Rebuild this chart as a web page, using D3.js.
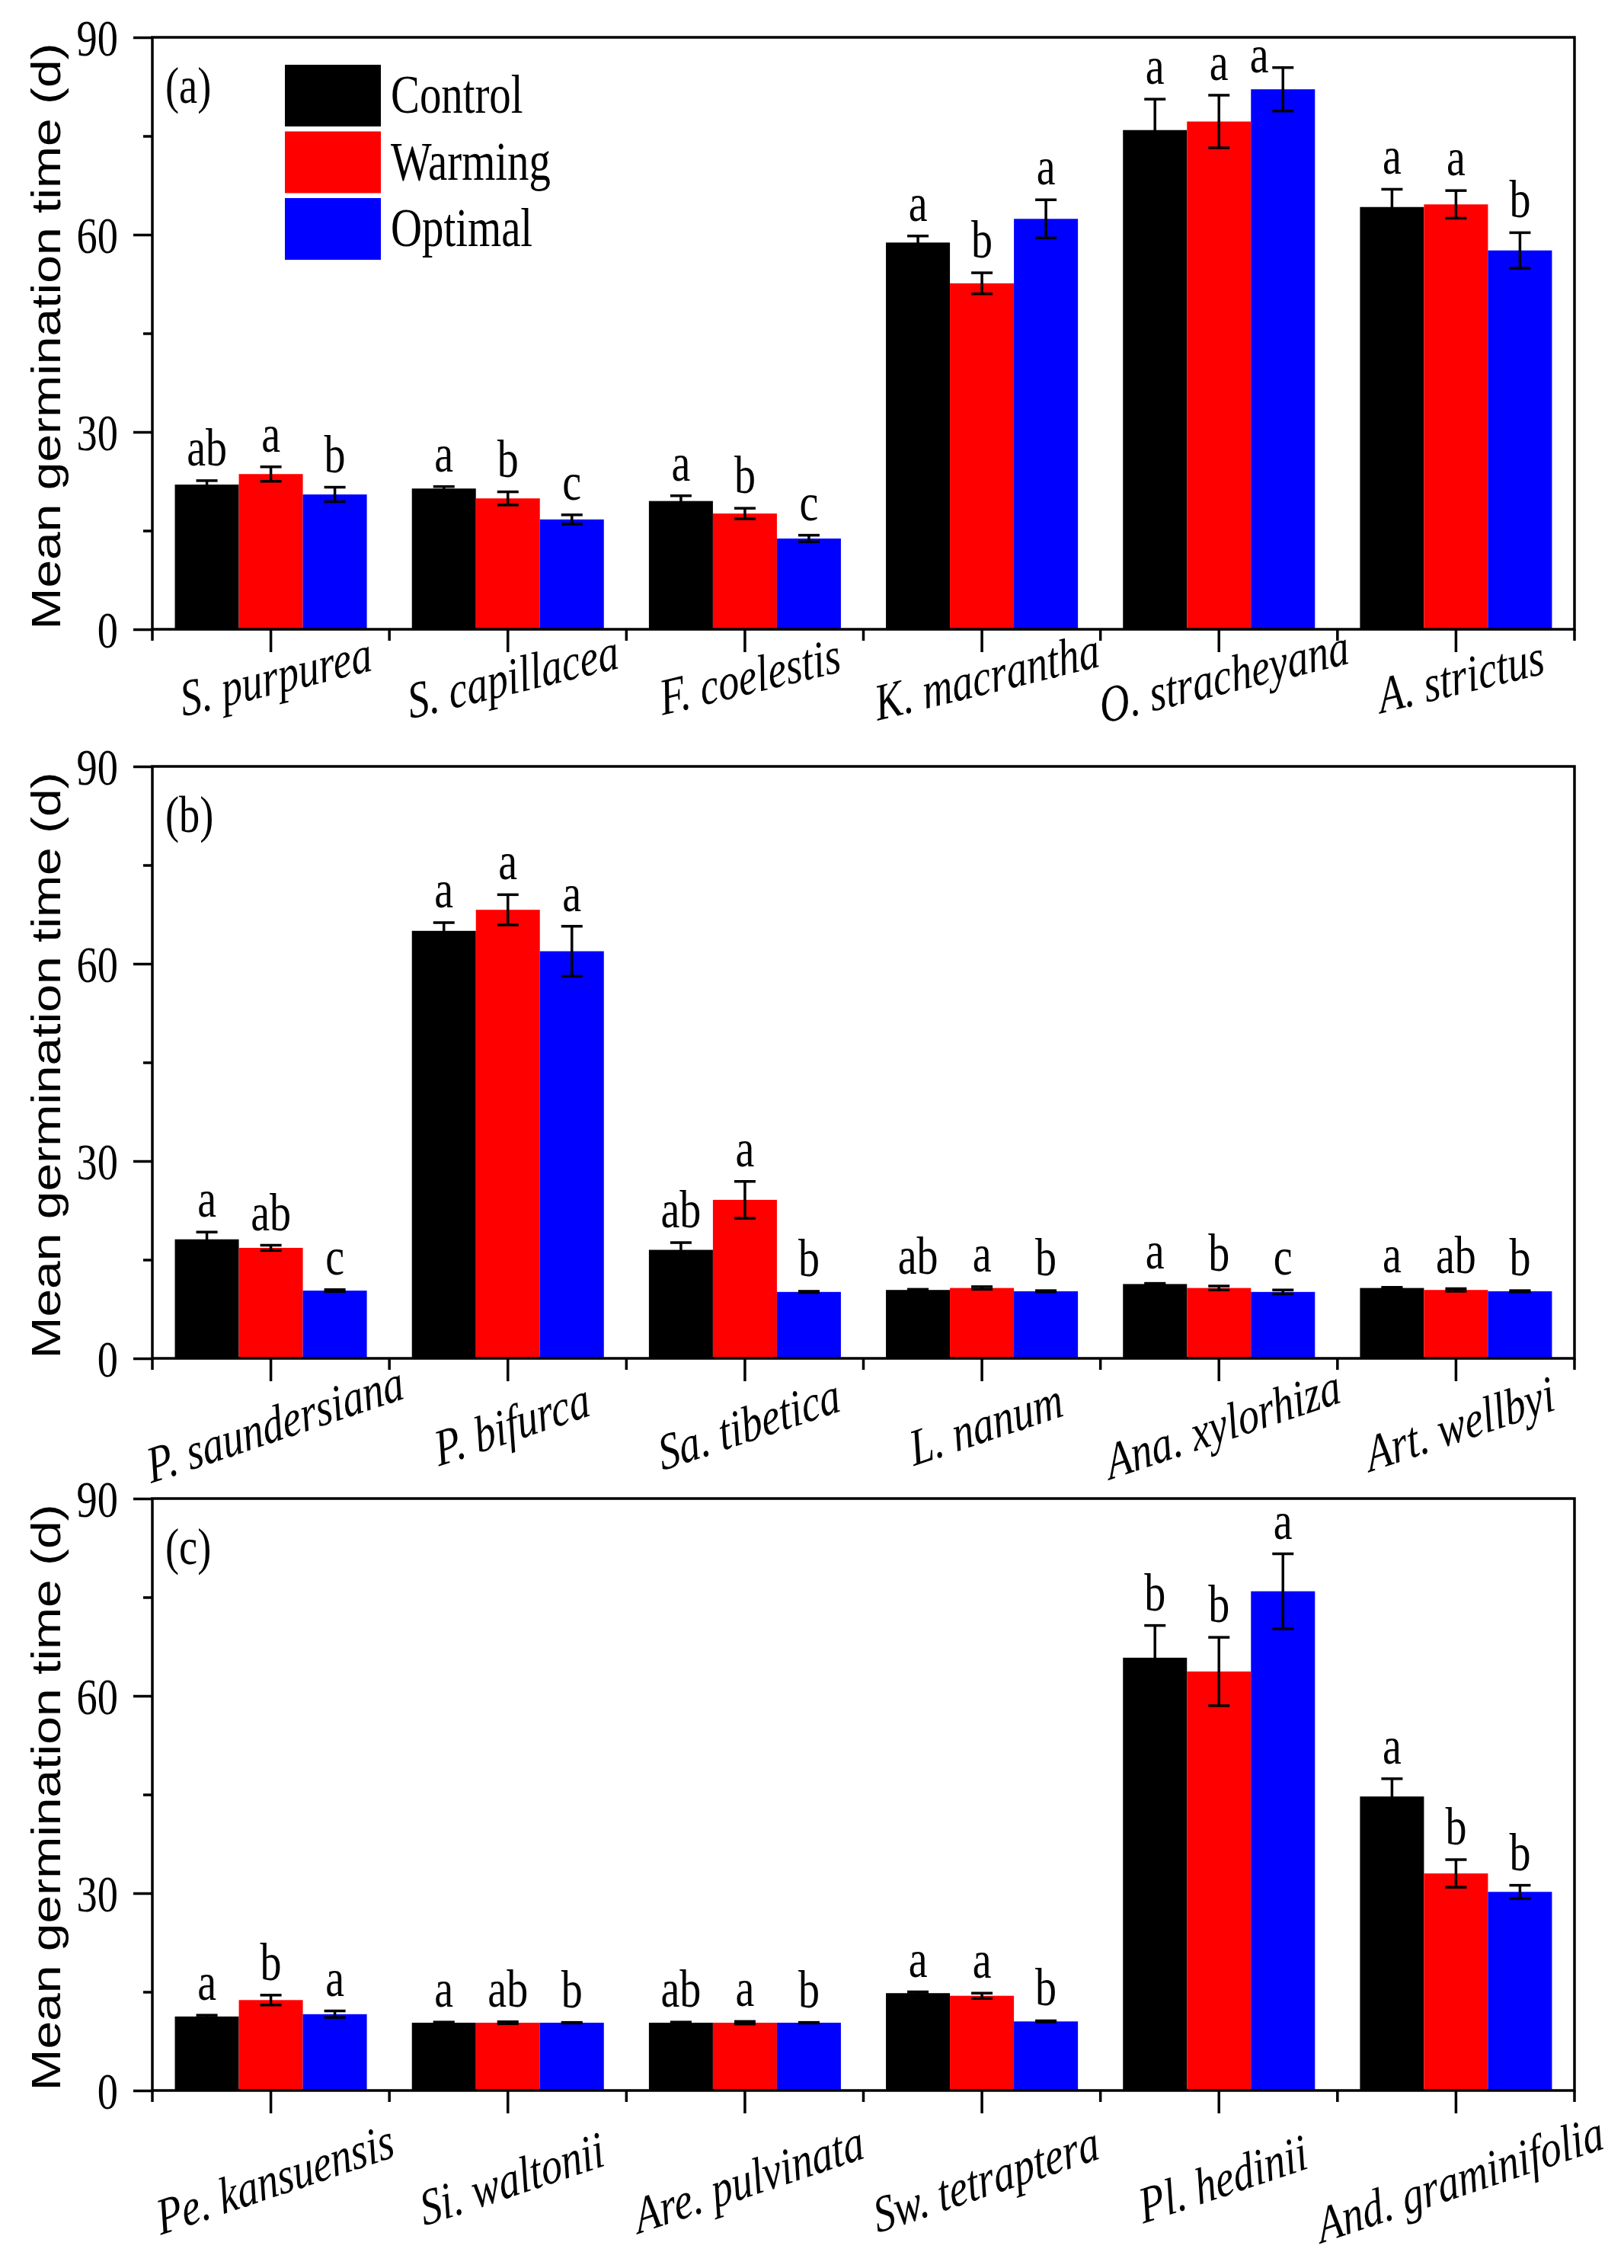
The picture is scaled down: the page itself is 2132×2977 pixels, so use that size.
<!DOCTYPE html>
<html>
<head>
<meta charset="utf-8">
<script src="https://cdn.jsdelivr.net/npm/d3@7"></script>
<style>
  body { margin: 0; background: #fff; }
</style>
</head>
<body>
<div id="chart"></div>
<script>
const treatments = ['Control', 'Warming', 'Optimal'];
const colors = ['#000000', '#ff0000', '#0000ff'];
const yTicks = [0, 30, 60, 90];
const yMinorTicks = [15, 45, 75];
const yLabel = 'Mean germination time (d)';

// panel (a)
const speciesA = ['S. purpurea', 'S. capillacea', 'F. coelestis', 'K. macrantha', 'O. stracheyana', 'A. strictus'];
const controlA = [22.0, 21.4, 19.5, 58.8, 75.9, 64.2];
const warmingA = [23.6, 19.9, 17.6, 52.6, 77.2, 64.6];
const optimalA = [20.5, 16.7, 13.8, 62.4, 82.1, 57.6];
const controlSeA = [0.6, 0.3, 0.8, 1.0, 4.7, 2.7];
const warmingSeA = [1.1, 1.0, 0.8, 1.6, 4.0, 2.1];
const optimalSeA = [1.1, 0.7, 0.5, 2.9, 3.3, 2.7];
const lettersA = [['ab', 'a', 'b'], ['a', 'b', 'c'], ['a', 'b', 'c'], ['a', 'b', 'a'], ['a', 'a', 'a'], ['a', 'a', 'b']];

// panel (b)
const speciesB = ['P. saundersiana', 'P. bifurca', 'Sa. tibetica', 'L. nanum', 'Ana. xylorhiza', 'Art. wellbyi'];
const controlB = [18.1, 65.0, 16.5, 10.4, 11.3, 10.7];
const warmingB = [16.8, 68.2, 24.1, 10.7, 10.7, 10.4];
const optimalB = [10.3, 61.9, 10.1, 10.2, 10.1, 10.2];
const controlSeB = [1.1, 1.25, 1.1, 0.1, 0.1, 0.1];
const warmingSeB = [0.4, 2.3, 2.8, 0.2, 0.3, 0.2];
const optimalSeB = [0.15, 3.8, 0.1, 0.1, 0.3, 0.1];
const lettersB = [['a', 'ab', 'c'], ['a', 'a', 'a'], ['ab', 'a', 'b'], ['ab', 'a', 'b'], ['a', 'b', 'c'], ['a', 'ab', 'b']];

// panel (c)
const speciesC = ['Pe. kansuensis', 'Si. waltonii', 'Are. pulvinata', 'Sw. tetraptera', 'Pl. hedinii', 'And. graminifolia'];
const controlC = [11.25, 10.3, 10.3, 14.8, 65.8, 44.7];
const warmingC = [13.75, 10.3, 10.3, 14.4, 63.7, 33.0];
const optimalC = [11.6, 10.3, 10.3, 10.5, 75.9, 30.2];
const controlSeC = [0.2, 0.1, 0.1, 0.2, 4.9, 2.7];
const warmingSeC = [0.75, 0.15, 0.2, 0.4, 5.2, 2.1];
const optimalSeC = [0.5, 0.05, 0.05, 0.1, 5.7, 1.0];
const lettersC = [['a', 'b', 'a'], ['a', 'ab', 'b'], ['ab', 'a', 'b'], ['a', 'a', 'b'], ['b', 'b', 'a'], ['a', 'b', 'b']];

const width = 2132;
const height = 2977;
const LEFT = 200;
const RIGHT = 2067;
const SX = 0.8; // the figure's text is squeezed sideways
const serif = "'Liberation Serif', 'Times New Roman', serif";
const sans = "'Liberation Sans', Arial, sans-serif";

const panels = [
  { tag: '(a)', top: 49, bottom: 826, labelOff: 84, labelRot: -11, legend: true,
    species: speciesA, means: [controlA, warmingA, optimalA], ses: [controlSeA, warmingSeA, optimalSeA], letters: lettersA },
  { tag: '(b)', top: 1006, bottom: 1783, labelOff: 108, labelRot: -15,
    species: speciesB, means: [controlB, warmingB, optimalB], ses: [controlSeB, warmingSeB, optimalSeB], letters: lettersB },
  { tag: '(c)', top: 1967, bottom: 2744, labelOff: 138, labelRot: -15,
    species: speciesC, means: [controlC, warmingC, optimalC], ses: [controlSeC, warmingSeC, optimalSeC], letters: lettersC }
];

const svg = d3.select('#chart').append('svg')
  .attr('width', width)
  .attr('height', height)
  .style('background', '#fff');

panels.forEach(p => drawPanel(p));

function drawPanel(p) {
  const y = d3.scaleLinear().domain([0, 90]).range([p.bottom, p.top]);
  const x0 = d3.scaleBand().domain(p.species).range([LEFT, RIGHT])
    .paddingInner(0.19).paddingOuter(0.095);
  const x1 = d3.scaleBand().domain(treatments).range([0, x0.bandwidth()]);
  const g = svg.append('g');

  const rows = [];
  p.species.forEach((s, i) => {
    treatments.forEach((t, j) => {
      rows.push({ s, t, j, mean: p.means[j][i], se: p.ses[j][i], letter: p.letters[i][j] });
    });
  });
  const cx = d => x0(d.s) + x1(d.t) + x1.bandwidth() / 2;

  // bars
  g.selectAll('rect.bar').data(rows).enter().append('rect')
    .attr('class', 'bar')
    .attr('x', d => x0(d.s) + x1(d.t))
    .attr('width', x1.bandwidth())
    .attr('y', d => y(d.mean))
    .attr('height', d => y(0) - y(d.mean))
    .attr('fill', d => colors[d.j]);

  // error bars
  const eb = g.selectAll('g.err').data(rows).enter().append('g')
    .attr('class', 'err')
    .attr('stroke', '#000')
    .attr('stroke-width', 3.5);
  eb.append('line')
    .attr('x1', cx).attr('x2', cx)
    .attr('y1', d => y(d.mean - d.se)).attr('y2', d => y(d.mean + d.se));
  eb.append('line')
    .attr('x1', d => cx(d) - 14).attr('x2', d => cx(d) + 14)
    .attr('y1', d => y(d.mean + d.se)).attr('y2', d => y(d.mean + d.se));
  eb.append('line')
    .attr('x1', d => cx(d) - 14).attr('x2', d => cx(d) + 14)
    .attr('y1', d => y(d.mean - d.se)).attr('y2', d => y(d.mean - d.se));

  // significance letters
  g.selectAll('text.letter').data(rows).enter().append('text')
    .attr('class', 'letter')
    .attr('transform', d => {
      let lx = cx(d);
      let ly = y(d.mean + d.se) - 20;
      if (ly - 34 < p.top) {
        // no room under the frame: set the letter beside the cap
        lx -= 31;
        ly = y(d.mean + d.se) + 6;
      }
      return `translate(${lx},${ly}) scale(${SX},1)`;
    })
    .attr('text-anchor', 'middle')
    .style('font-family', serif)
    .style('font-size', '70px')
    .text(d => d.letter);

  // frame
  g.append('rect')
    .attr('x', LEFT).attr('y', p.top)
    .attr('width', RIGHT - LEFT).attr('height', p.bottom - p.top)
    .attr('fill', 'none')
    .attr('stroke', '#000')
    .attr('stroke-width', 3.5);

  // y axis
  const ya = g.append('g')
    .attr('transform', `translate(${LEFT},0)`)
    .call(d3.axisLeft(y).tickValues(yTicks).tickSize(25).tickSizeOuter(0));
  ya.select('.domain').remove();
  ya.selectAll('line').attr('stroke-width', 3.5);
  ya.selectAll('text')
    .attr('x', null)
    .attr('transform', `translate(-45,0) scale(${SX},1)`)
    .attr('dy', '0.34em')
    .style('font-family', serif)
    .style('font-size', '68px')
    .attr('fill', '#000');

  const yMinor = g.append('g')
    .attr('transform', `translate(${LEFT},0)`)
    .call(d3.axisLeft(y).tickValues(yMinorTicks).tickSize(12).tickFormat(''));
  yMinor.select('.domain').remove();
  yMinor.selectAll('line').attr('stroke-width', 3.5);

  // x axis
  const xa = g.append('g')
    .attr('transform', `translate(0,${p.bottom})`)
    .call(d3.axisBottom(x0).tickSize(30).tickSizeOuter(0));
  xa.select('.domain').remove();
  xa.selectAll('line').attr('stroke-width', 3.5);
  xa.selectAll('text')
    .attr('y', null)
    .attr('dy', null)
    .attr('transform', `translate(10,${p.labelOff}) scale(${SX},1) rotate(${p.labelRot})`)
    .attr('text-anchor', 'middle')
    .style('font-family', serif)
    .style('font-style', 'italic')
    .style('font-size', '68px')
    .attr('fill', '#000');

  const bounds = d3.range(p.species.length + 1).map(k => LEFT + k * x0.step());
  g.selectAll('line.minor-x').data(bounds).enter().append('line')
    .attr('class', 'minor-x')
    .attr('x1', d => d).attr('x2', d => d)
    .attr('y1', p.bottom).attr('y2', p.bottom + 15)
    .attr('stroke', '#000')
    .attr('stroke-width', 3.5);

  // axis title
  g.append('text')
    .attr('transform', `translate(79,${(p.top + p.bottom) / 2 + 4}) scale(${SX},1) rotate(-90)`)
    .attr('text-anchor', 'middle')
    .style('font-family', sans)
    .style('font-size', '66px')
    .text(yLabel);

  // panel tag
  g.append('text')
    .attr('transform', `translate(217,${p.top + 86}) scale(${SX},1)`)
    .style('font-family', serif)
    .style('font-size', '68px')
    .text(p.tag);

  if (p.legend) {
    const lg = g.append('g').attr('transform', `translate(374,${p.top + 36})`);
    const item = lg.selectAll('g').data(treatments).enter().append('g')
      .attr('transform', (d, i) => `translate(0,${i * 87.5})`);
    item.append('rect')
      .attr('width', 126).attr('height', 81)
      .attr('fill', (d, i) => colors[i]);
    item.append('text')
      .attr('transform', `translate(139,63) scale(${SX},1)`)
      .style('font-family', serif)
      .style('font-size', '71px')
      .text(d => d);
  }
}
</script>
</body>
</html>
